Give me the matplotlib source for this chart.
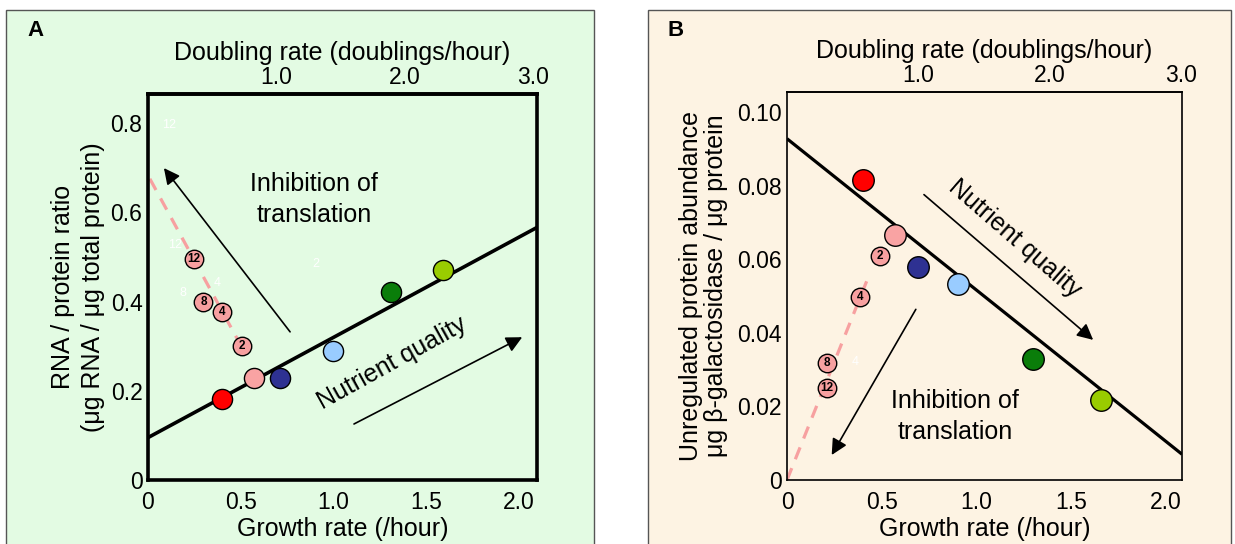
import numpy as np
import matplotlib
matplotlib.use('Agg')
import matplotlib.pyplot as plt
from matplotlib.patches import Rectangle

plt.rcParams['font.family'] = ['Liberation Sans', 'DejaVu Sans']

LN2 = np.log(2)

# ---------------- data ----------------
growth_ticks = [0, 0.5, 1.0, 1.5, 2.0]
growth_ticklabels = ['0', '0.5', '1.0', '1.5', '2.0']
doubling_ticks = [1.0, 2.0, 3.0]
doubling_ticklabels = ['1.0', '2.0', '3.0']
nutrient_colors = ['#ff0000', '#f9a3a3', '#2e3192', '#99ccff', '#0a7d0a', '#99cc00']
inhib_labels = ['2', '4', '8', '12']

# Panel A
a_yticks = [0, 0.2, 0.4, 0.6, 0.8]
a_yticklabels = ['0', '0.2', '0.4', '0.6', '0.8']
a_nutrient_x = [0.40, 0.57, 0.71, 1.00, 1.31, 1.59]
a_nutrient_y = [0.181, 0.229, 0.228, 0.290, 0.422, 0.470]
a_inhib_x = [0.506, 0.398, 0.299, 0.248]
a_inhib_y = [0.301, 0.376, 0.400, 0.495]
a_fit_x = [0.0, 2.1]
a_fit_y = [0.095, 0.566]
a_dash_x = [0.01, 0.49]
a_dash_y = [0.675, 0.31]
a_ghost_labels = ['12', '12', '4', '8', '2']
a_ghost_x = [0.115, 0.146, 0.376, 0.187, 0.905]
a_ghost_y = [0.796, 0.527, 0.441, 0.420, 0.483]

# Panel B
b_yticks = [0, 0.02, 0.04, 0.06, 0.08, 0.10]
b_yticklabels = ['0', '0.02', '0.04', '0.06', '0.08', '0.10']
b_nutrient_x = [0.40, 0.57, 0.693, 0.905, 1.30, 1.66]
b_nutrient_y = [0.0815, 0.0667, 0.0578, 0.0532, 0.0330, 0.0218]
b_inhib_x = [0.49, 0.385, 0.212, 0.21]
b_inhib_y = [0.0608, 0.0497, 0.0318, 0.0250]
b_fit_x = [0.0, 2.085]
b_fit_y = [0.0928, 0.0070]
b_dash_x = [0.0, 0.438]
b_dash_y = [0.0, 0.0563]
b_ghost_labels = ['4']
b_ghost_x = [0.36]
b_ghost_y = [0.032]

PINK = '#f7a0a0'
W, H = 1235, 544

fig = plt.figure(figsize=(W / 100, H / 100), dpi=100)

# panel backgrounds
fig.patches.append(Rectangle((6 / W, -0.02), (594 - 6) / W, 1 - 10 / H + 0.02,
                             transform=fig.transFigure, fc='#e3fbe3', ec='#555555', lw=1.0,
                             zorder=-10))
fig.patches.append(Rectangle((648 / W, -0.02), (1231 - 648) / W, 1 - 10 / H + 0.02,
                             transform=fig.transFigure, fc='#fdf3e3', ec='#555555', lw=1.0,
                             zorder=-10))

axA = fig.add_axes([148 / W, 64 / H, 389 / W, 386 / H])
axB = fig.add_axes([787 / W, 64 / H, 395 / W, 388 / H])

FS_LAB = 18
FS_TICK = 16.5


def setup(ax, xmax, ymax, yticks, yticklabels, spine_lw):
    ax.set_facecolor('none')
    ax.set_xlim(0, xmax)
    ax.set_ylim(0, ymax)
    ax.set_xticks(growth_ticks)
    ax.set_xticklabels(growth_ticklabels)
    ax.set_yticks(yticks)
    ax.set_yticklabels(yticklabels)
    ax.tick_params(axis='x', length=0, labelsize=FS_TICK, pad=8)
    ax.tick_params(axis='y', length=0, labelsize=FS_TICK, pad=4)
    for s in ax.spines.values():
        s.set_linewidth(spine_lw)
    ax.set_xlabel('Growth rate (/hour)', fontsize=FS_LAB, labelpad=2)
    sec = ax.secondary_xaxis('top', functions=(lambda x: x / LN2, lambda x: x * LN2))
    sec.set_xticks(doubling_ticks)
    sec.set_xticklabels(doubling_ticklabels)
    sec.tick_params(length=0, labelsize=FS_TICK, pad=3.5)
    sec.spines['top'].set_linewidth(spine_lw)
    sec.set_xlabel('Doubling rate (doublings/hour)', fontsize=FS_LAB, labelpad=4.5)
    return sec


def arrow(ax, tail, tip):
    ax.annotate('', xy=tip, xytext=tail,
                arrowprops=dict(arrowstyle='-|>', lw=1.2, color='black',
                                mutation_scale=24, shrinkA=0, shrinkB=0))


# ---------------- Panel A ----------------
setup(axA, 2.1, 0.865, a_yticks, a_yticklabels, 2.6)
axA.set_ylabel('RNA / protein ratio\n(\u03bcg RNA / \u03bcg total protein)', fontsize=FS_LAB,
               linespacing=1.3, labelpad=4)
for lab, x, y in zip(a_ghost_labels, a_ghost_x, a_ghost_y):
    axA.text(x, y, lab, color='white', fontsize=9, ha='center', va='center', zorder=1)
axA.plot(a_fit_x, a_fit_y, color='black', lw=2.6, zorder=2, solid_capstyle='butt')
axA.plot(a_dash_x, a_dash_y, color=PINK, lw=2.3, dashes=(4, 3), zorder=2)
for x, y, c in zip(a_nutrient_x, a_nutrient_y, nutrient_colors):
    axA.plot(x, y, 'o', ms=14.5, mfc=c, mec='black', mew=1.0, zorder=4)
for x, y, lab in zip(a_inhib_x, a_inhib_y, inhib_labels):
    axA.plot(x, y, 'o', ms=13.3, mfc=PINK, mec='black', mew=1.0, zorder=4)
    axA.text(x, y, lab, fontsize=8.5, fontweight='bold', ha='center', va='center', zorder=5)
arrow(axA, (0.767, 0.332), (0.086, 0.699))
arrow(axA, (1.112, 0.1255), (2.02, 0.32))
axA.text(0.896, 0.628, 'Inhibition of\ntranslation', fontsize=FS_LAB, ha='center', va='center',
         linespacing=1.35)
axA.text(1.317, 0.262, 'Nutrient quality', fontsize=FS_LAB, ha='center', va='center',
         rotation=29, rotation_mode='anchor')

# ---------------- Panel B ----------------
setup(axB, 2.085, 0.1055, b_yticks, b_yticklabels, 1.2)
axB.set_ylabel('Unregulated protein abundance\n\u03bcg \u03b2-galactosidase / \u03bcg protein',
               fontsize=FS_LAB, linespacing=1.08, labelpad=6)
for lab, x, y in zip(b_ghost_labels, b_ghost_x, b_ghost_y):
    axB.text(x, y, lab, color='white', fontsize=9, ha='center', va='center', zorder=1)
axB.plot(b_fit_x, b_fit_y, color='black', lw=2.3, zorder=2, solid_capstyle='butt')
axB.plot(b_dash_x, b_dash_y, color=PINK, lw=2.3, dashes=(4, 3), zorder=2)
for x, y, c in zip(b_nutrient_x, b_nutrient_y, nutrient_colors):
    axB.plot(x, y, 'o', ms=15.5, mfc=c, mec='black', mew=1.0, zorder=4)
for x, y, lab in zip(b_inhib_x, b_inhib_y, inhib_labels):
    axB.plot(x, y, 'o', ms=13.3, mfc=PINK, mec='black', mew=1.0, zorder=4)
    axB.text(x, y, lab, fontsize=8.5, fontweight='bold', ha='center', va='center', zorder=5)
arrow(axB, (0.723, 0.0776), (1.616, 0.0381))
arrow(axB, (0.68, 0.0464), (0.236, 0.0068))
axB.text(1.204, 0.0657, 'Nutrient quality', fontsize=FS_LAB, ha='center', va='center',
         rotation=-41, rotation_mode='anchor')
axB.text(0.887, 0.0173, 'Inhibition of\ntranslation', fontsize=FS_LAB, ha='center', va='center',
         linespacing=1.35)

# panel letters
fig.text(35 / W, 1 - 30 / H, 'A', fontsize=16, fontweight='bold', ha='center', va='center')
fig.text(676 / W, 1 - 30 / H, 'B', fontsize=16, fontweight='bold', ha='center', va='center')

fig.savefig('out.png', dpi=100)
